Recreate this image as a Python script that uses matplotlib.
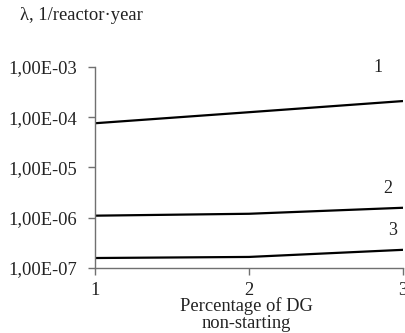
import matplotlib
matplotlib.use("Agg")
import matplotlib.pyplot as plt
import matplotlib.ticker as mticker

x = [1, 2, 3]
series1 = [7.6e-5, 1.26e-4, 2.1e-4]
series2 = [1.1e-6, 1.2e-6, 1.58e-6]
series3 = [1.58e-7, 1.66e-7, 2.3e-7]
series_labels = ["1", "2", "3"]
ytick_vals = [1e-7, 1e-6, 1e-5, 1e-4, 1e-3]
ytick_labels = ["1,00E-07", "1,00E-06", "1,00E-05", "1,00E-04", "1,00E-03"]
xtick_vals = [1, 2, 3]

plt.rcParams['font.family'] = ['Liberation Serif', 'DejaVu Serif']

fig = plt.figure(figsize=(4.05, 3.33), dpi=100)
ax = fig.add_axes([95/405, 1-268/333, (403-95)/405, (268-67)/333])

for s in (series1, series2, series3):
    ax.plot(x, s, color='black', lw=1.6, solid_capstyle='butt')

ax.set_yscale('log')
ax.set_ylim(1e-7, 1e-3)
ax.set_xlim(1, 3)
ax.set_yticks(ytick_vals)
ax.set_yticklabels(ytick_labels)
ax.yaxis.set_minor_locator(mticker.NullLocator())
ax.set_xticks(xtick_vals)
ax.set_xticklabels([str(v) for v in xtick_vals])

for sp in ('top', 'right'):
    ax.spines[sp].set_visible(False)
for sp in ('left', 'bottom'):
    ax.spines[sp].set_color('#707070')
    ax.spines[sp].set_linewidth(1.0)
ax.tick_params(axis='both', colors='#707070', labelcolor='#222222', labelsize=13.3,
               length=5, width=1.0, direction='out')
ax.tick_params(axis='y', pad=8)
ax.tick_params(axis='x', pad=5)

# series labels
ax.annotate(series_labels[0], xy=(2.84, series1[2]), xytext=(0, 24), textcoords='offset points',
            ha='center', va='center', fontsize=13, color='#222222')
ax.annotate(series_labels[1], xy=(2.9, series2[2]), xytext=(0, 14), textcoords='offset points',
            ha='center', va='center', fontsize=13, color='#222222')
ax.annotate(series_labels[2], xy=(2.93, series3[2]), xytext=(0, 14), textcoords='offset points',
            ha='center', va='center', fontsize=13, color='#222222')

fig.text(20/405, 1-15/333, "λ, 1/reactor·year", ha='left', va='center', fontsize=13.4, color='#222222')
fig.text(246/405, 1-315/333, "Percentage of DG\nnon-starting", ha='center', va='center',
         fontsize=13.3, color='#222222', linespacing=1.0)

fig.savefig("out.png", dpi=100)
